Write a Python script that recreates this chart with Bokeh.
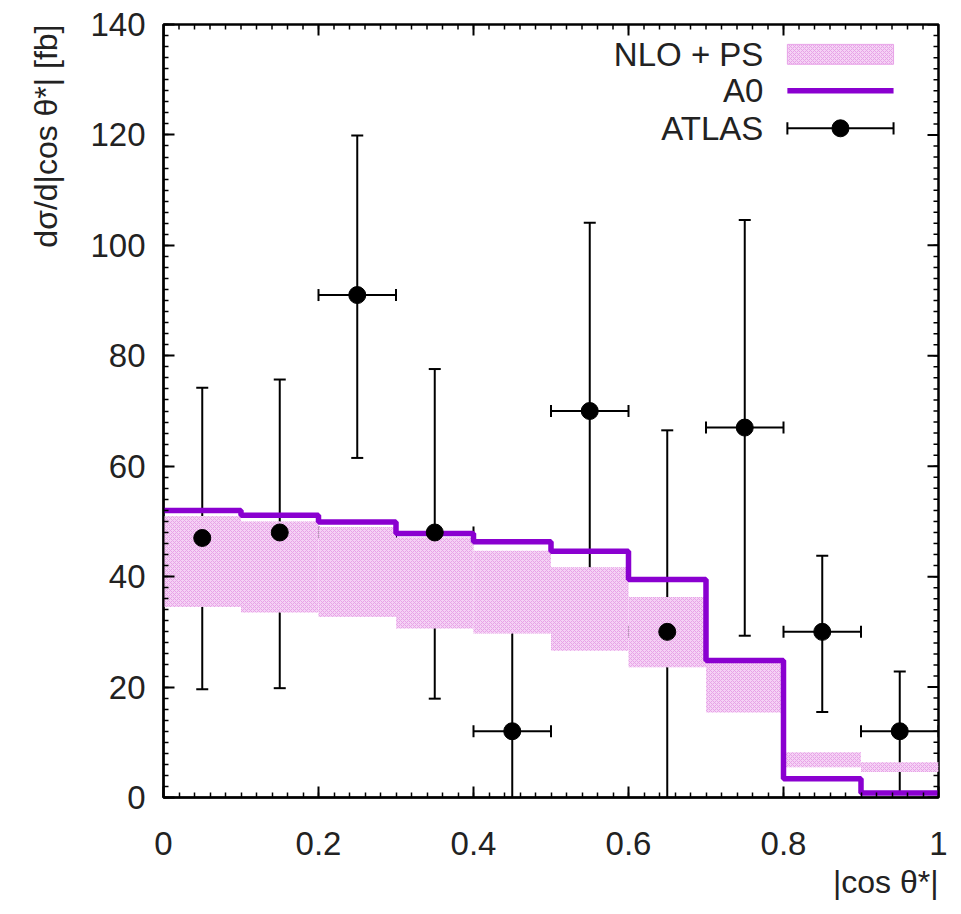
from bokeh.plotting import figure
from bokeh.models import (Range1d, FixedTicker, Whisker, TeeHead,
                          ColumnDataSource, Label, Title)
from bokeh.embed import file_html
from bokeh.resources import INLINE

# ---------------- data ----------------
bin_edges = [0.0, 0.1, 0.2, 0.3, 0.4, 0.5, 0.6, 0.7, 0.8, 0.9, 1.0]
a0_values = [52.0, 51.1, 49.9, 47.8, 46.3, 44.6, 39.5, 24.8, 3.4, 0.8]
nlo_low = [34.5, 33.5, 32.7, 30.6, 29.7, 26.6, 23.6, 15.4, 5.5, 4.6]
nlo_high = [51.0, 50.0, 49.0, 47.1, 44.7, 41.7, 36.3, 24.5, 8.2, 6.4]

atlas_x = [0.05, 0.15, 0.25, 0.35, 0.45, 0.55, 0.65, 0.75, 0.85, 0.95]
atlas_xerr = [0.05] * 10
atlas_y = [47.0, 48.0, 91.0, 48.0, 12.0, 70.0, 30.0, 67.0, 30.0, 12.0]
atlas_lo = [19.6, 19.8, 61.5, 17.9, -17.0, 35.5, -7.0, 29.3, 15.5, 0.7]
atlas_hi = [74.2, 75.7, 119.9, 77.6, 40.5, 104.1, 66.5, 104.6, 43.8, 22.8]

x_ticks = [0.0, 0.2, 0.4, 0.6, 0.8, 1.0]
x_tick_labels = ["0", "0.2", "0.4", "0.6", "0.8", "1"]
x_minor = [i * 0.02 for i in range(51)]
y_ticks = [0, 20, 40, 60, 80, 100, 120, 140]
y_minor = [i * 2 for i in range(71)]

legend_labels = ["NLO + PS", "A0", "ATLAS"]
x_title = "|cos θ*|"
y_title = "dσ/d|cos θ*| [fb]"

# ---------------- styling ----------------
FONT = "Liberation Sans"
TXT = "#222222"
PURPLE = "#8a00d0"
BAND_FILL = "#f5d2f5"
BAND_HATCH = "#e7a3e7"
X0, X1, Y0, Y1 = 0.0, 1.0, 0.0, 140.0
W, H = 961, 914
BL, BR, BT, BB = 163, 23, 24, 117
FW, FH = W - BL - BR, H - BT - BB

p = figure(width=W, height=H, output_backend="svg", toolbar_location=None,
           x_range=Range1d(X0, X1), y_range=Range1d(Y0, Y1),
           min_border_left=BL, min_border_right=BR, min_border_top=BT,
           min_border_bottom=BB)
p.background_fill_color = "white"
p.border_fill_color = "white"
p.outline_line_color = "black"
p.outline_line_width = 2.5
p.grid.visible = False

def style_axis(ax):
    ax.major_tick_in = 11
    ax.major_tick_out = 0
    ax.minor_tick_in = 5
    ax.minor_tick_out = 0
    ax.major_tick_line_width = 2
    ax.minor_tick_line_width = 1.5
    ax.major_tick_line_color = "black"
    ax.minor_tick_line_color = "black"
    ax.axis_line_color = "black"
    ax.axis_line_width = 2
    ax.major_label_text_font = FONT
    ax.major_label_text_color = TXT
    ax.major_label_text_font_size = "33px"

xa = p.xaxis[0]
xa.ticker = FixedTicker(ticks=x_ticks, minor_ticks=x_minor)
xa.major_label_overrides = {t: l for t, l in zip(x_ticks, x_tick_labels)}
style_axis(xa)
xa.major_label_standoff = 34

ya = p.yaxis[0]
ya.ticker = FixedTicker(ticks=y_ticks, minor_ticks=y_minor)
style_axis(ya)
ya.major_label_standoff = 18

# axis titles as panel titles, aligned to the end of each axis
p.add_layout(Title(text=x_title, align="right", vertical_align="top",
                   text_font=FONT, text_font_size="32px",
                   text_font_style="normal", text_color=TXT, standoff=12),
             "below")
p.add_layout(Title(text=y_title, align="right", vertical_align="middle",
                   text_font=FONT, text_font_size="32px",
                   text_font_style="normal", text_color=TXT, standoff=46),
             "left")

# mirrored ticks on the top and right edges
mx = 11 / FW * (X1 - X0)
nx = 5 / FW * (X1 - X0)
my = 11 / FH * (Y1 - Y0)
ny = 5 / FH * (Y1 - Y0)
p.segment(x0=x_ticks, x1=x_ticks, y0=[Y1] * len(x_ticks),
          y1=[Y1 - my] * len(x_ticks), line_color="black", line_width=2)
p.segment(x0=x_minor, x1=x_minor, y0=[Y1] * len(x_minor),
          y1=[Y1 - ny] * len(x_minor), line_color="black", line_width=1.5)
p.segment(x0=[X1] * len(y_ticks), x1=[X1 - mx] * len(y_ticks), y0=y_ticks,
          y1=y_ticks, line_color="black", line_width=2)
p.segment(x0=[X1] * len(y_minor), x1=[X1 - nx] * len(y_minor), y0=y_minor,
          y1=y_minor, line_color="black", line_width=1.5)

# NLO + PS band
band_src = ColumnDataSource(dict(left=bin_edges[:-1], right=bin_edges[1:],
                                 bottom=nlo_low, top=nlo_high))
p.quad(left="left", right="right", bottom="bottom", top="top", source=band_src,
       fill_color=BAND_FILL, line_color=None, hatch_pattern="diagonal_cross",
       hatch_color=BAND_HATCH, hatch_scale=4, hatch_weight=1)

# A0 step histogram
p.step(x=bin_edges, y=a0_values + [a0_values[-1]], mode="after",
       line_color=PURPLE, line_width=5.5)

# ATLAS data
src = ColumnDataSource(dict(x=atlas_x, y=atlas_y, lo=atlas_lo, hi=atlas_hi,
                            xl=[a - e for a, e in zip(atlas_x, atlas_xerr)],
                            xr=[a + e for a, e in zip(atlas_x, atlas_xerr)]))
def tee():
    return TeeHead(size=12, line_width=2, line_color="black")
p.add_layout(Whisker(base="x", lower="lo", upper="hi", source=src,
                     dimension="height", line_color="black", line_width=2,
                     upper_head=tee(), lower_head=tee()))
p.add_layout(Whisker(base="y", lower="xl", upper="xr", source=src,
                     dimension="width", line_color="black", line_width=2,
                     upper_head=tee(), lower_head=tee()))
p.scatter(x="x", y="y", source=src, size=17, fill_color="black",
          line_color="black")

# ---------------- custom legend (label left, sample right) ----------------
leg_text_x = 0.774
leg_x0, leg_x1 = 0.805, 0.942
leg_rows = [134.6, 128.0, 121.2]
for lab, ry in zip(legend_labels, leg_rows):
    p.add_layout(Label(x=leg_text_x, y=ry, text=lab, text_align="right",
                       text_baseline="middle", text_font=FONT,
                       text_font_size="33px", text_color=TXT))
p.quad(left=[leg_x0], right=[leg_x1], bottom=[leg_rows[0] - 1.8],
       top=[leg_rows[0] + 1.8], fill_color=BAND_FILL, line_color=BAND_HATCH,
       line_width=1, hatch_pattern="diagonal_cross", hatch_color=BAND_HATCH,
       hatch_scale=4, hatch_weight=1)
p.line(x=[leg_x0, leg_x1], y=[leg_rows[1], leg_rows[1]], line_color=PURPLE,
       line_width=5.5)
p.line(x=[leg_x0, leg_x1], y=[leg_rows[2], leg_rows[2]], line_color="black",
       line_width=2)
p.segment(x0=[leg_x0, leg_x1], x1=[leg_x0, leg_x1],
          y0=[leg_rows[2] - 1.1] * 2, y1=[leg_rows[2] + 1.1] * 2,
          line_color="black", line_width=2)
p.scatter(x=[(leg_x0 + leg_x1) / 2], y=[leg_rows[2]], size=17,
          fill_color="black", line_color="black")

open("out.html", "w").write(file_html(p, INLINE))
